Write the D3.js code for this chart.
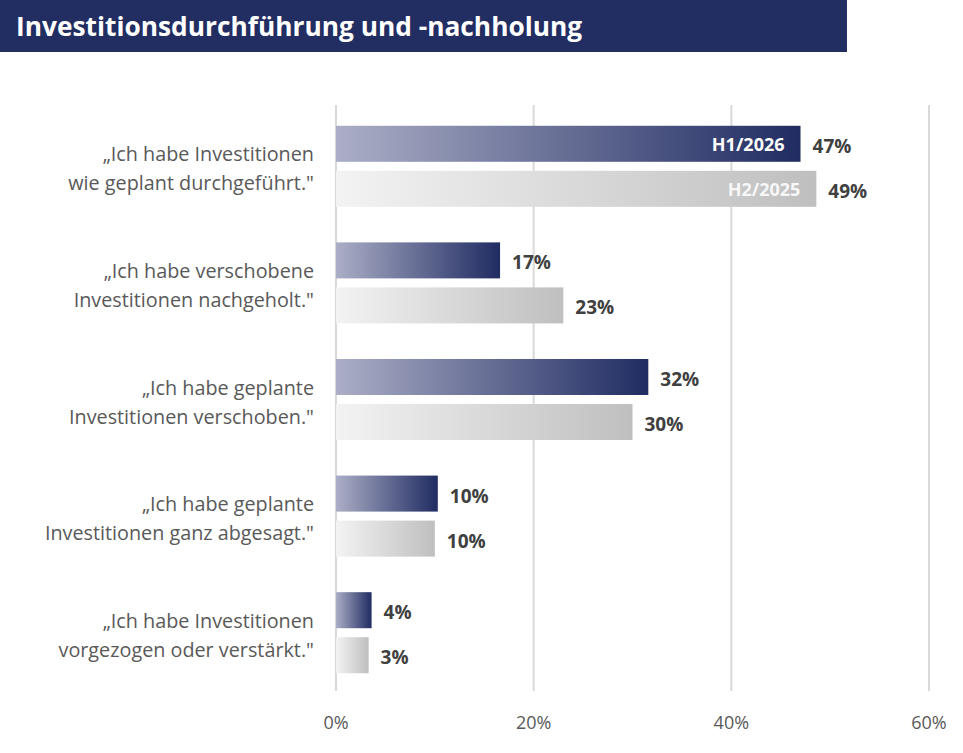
<!DOCTYPE html>
<html>
<head>
<meta charset="utf-8">
<script src="https://cdn.jsdelivr.net/npm/d3@7"></script>
<style>
  body { margin: 0; background: #fff; }
  svg { display: block; font-family: "Open Sans", "Noto Sans", sans-serif; }
</style>
</head>
<body>
<div id="chart"></div>
<script>
const width = 963;
const height = 753;

const title = "Investitionsdurchführung und -nachholung";
const categories = [
  ["„Ich habe Investitionen", "wie geplant durchgeführt.\""],
  ["„Ich habe verschobene", "Investitionen nachgeholt.\""],
  ["„Ich habe geplante", "Investitionen verschoben.\""],
  ["„Ich habe geplante", "Investitionen ganz abgesagt.\""],
  ["„Ich habe Investitionen", "vorgezogen oder verstärkt.\""]
];
const seriesNames = ["H1/2026", "H2/2025"];
const valuesH1 = [47.0, 16.6, 31.6, 10.3, 3.6];
const valuesH2 = [48.6, 23.0, 30.0, 10.0, 3.3];
const xTicks = [0, 20, 40, 60];

const svg = d3.select("#chart")
  .append("svg")
  .attr("width", width)
  .attr("height", height);

// gradients, one per series
const defs = svg.append("defs");
const grads = [
  { id: "gH1", from: "#abaec6", to: "#202c62" },
  { id: "gH2", from: "#f3f3f3", to: "#bfbfbf" }
];
grads.forEach((g) => {
  const lg = defs.append("linearGradient").attr("id", g.id)
    .attr("x1", 0).attr("x2", 1).attr("y1", 0).attr("y2", 0);
  lg.append("stop").attr("offset", "0%").attr("stop-color", g.from);
  lg.append("stop").attr("offset", "100%").attr("stop-color", g.to);
});

// title bar
svg.append("rect")
  .attr("x", 0).attr("y", 0)
  .attr("width", 847).attr("height", 52)
  .attr("fill", "#222e62");
svg.append("text")
  .attr("x", 16).attr("y", 36)
  .attr("fill", "#fff")
  .attr("font-size", 26.3)
  .attr("font-weight", 700)
  .text(title);

const x = d3.scaleLinear().domain([0, 60]).range([336, 929]);

const y = d3.scaleBand()
  .domain(d3.range(categories.length))
  .range([108, 691])
  .paddingInner(0.305)
  .paddingOuter(0.1525);

const ySub = d3.scaleBand()
  .domain(seriesNames)
  .range([0, y.bandwidth()])
  .paddingInner(0.2);

// grid
svg.append("g")
  .selectAll("line")
  .data(xTicks)
  .join("line")
  .attr("x1", (d) => x(d)).attr("x2", (d) => x(d))
  .attr("y1", 105).attr("y2", 691)
  .attr("stroke", "#d9d9d9")
  .attr("stroke-width", 2);

svg.append("g")
  .selectAll("text")
  .data(xTicks)
  .join("text")
  .attr("x", (d) => x(d))
  .attr("y", 729)
  .attr("text-anchor", "middle")
  .attr("font-size", 18)
  .attr("fill", "#595959")
  .text((d) => d + "%");

// category labels
const catLabels = svg.append("g")
  .selectAll("text")
  .data(categories)
  .join("text")
  .attr("text-anchor", "end")
  .attr("font-size", 19.8)
  .attr("fill", "#595959");
catLabels.each(function (lines, i) {
  const cy = y(i) + y.bandwidth() / 2;
  d3.select(this).selectAll("tspan")
    .data(lines)
    .join("tspan")
    .attr("x", 314)
    .attr("y", (d, j) => cy - 14 + j * 29 + 9)
    .text((d) => d);
});

// bars
const rows = [];
categories.forEach((c, i) => {
  rows.push({ i, s: seriesNames[0], v: valuesH1[i], grad: "gH1" });
  rows.push({ i, s: seriesNames[1], v: valuesH2[i], grad: "gH2" });
});

svg.append("g")
  .selectAll("rect")
  .data(rows)
  .join("rect")
  .attr("x", x(0))
  .attr("y", (d) => y(d.i) + ySub(d.s))
  .attr("width", (d) => x(d.v) - x(0))
  .attr("height", ySub.bandwidth())
  .attr("fill", (d) => `url(#${d.grad})`);

// value labels
svg.append("g")
  .selectAll("text")
  .data(rows)
  .join("text")
  .attr("x", (d) => x(d.v) + 12)
  .attr("y", (d) => y(d.i) + ySub(d.s) + ySub.bandwidth() / 2 + 9)
  .attr("font-size", 19)
  .attr("font-weight", 700)
  .attr("fill", "#404040")
  .text((d) => Math.round(d.v) + "%");

// series names inside the first group
svg.append("g")
  .selectAll("text")
  .data(rows.filter((d) => d.i === 0))
  .join("text")
  .attr("x", (d) => x(d.v) - 16)
  .attr("y", (d) => y(d.i) + ySub(d.s) + ySub.bandwidth() / 2 + 7)
  .attr("text-anchor", "end")
  .attr("font-size", 18)
  .attr("font-weight", 700)
  .attr("fill", (d) => d.s === seriesNames[0] ? "#ffffff" : "#f7f7f7")
  .text((d) => d.s);
</script>
</body>
</html>
